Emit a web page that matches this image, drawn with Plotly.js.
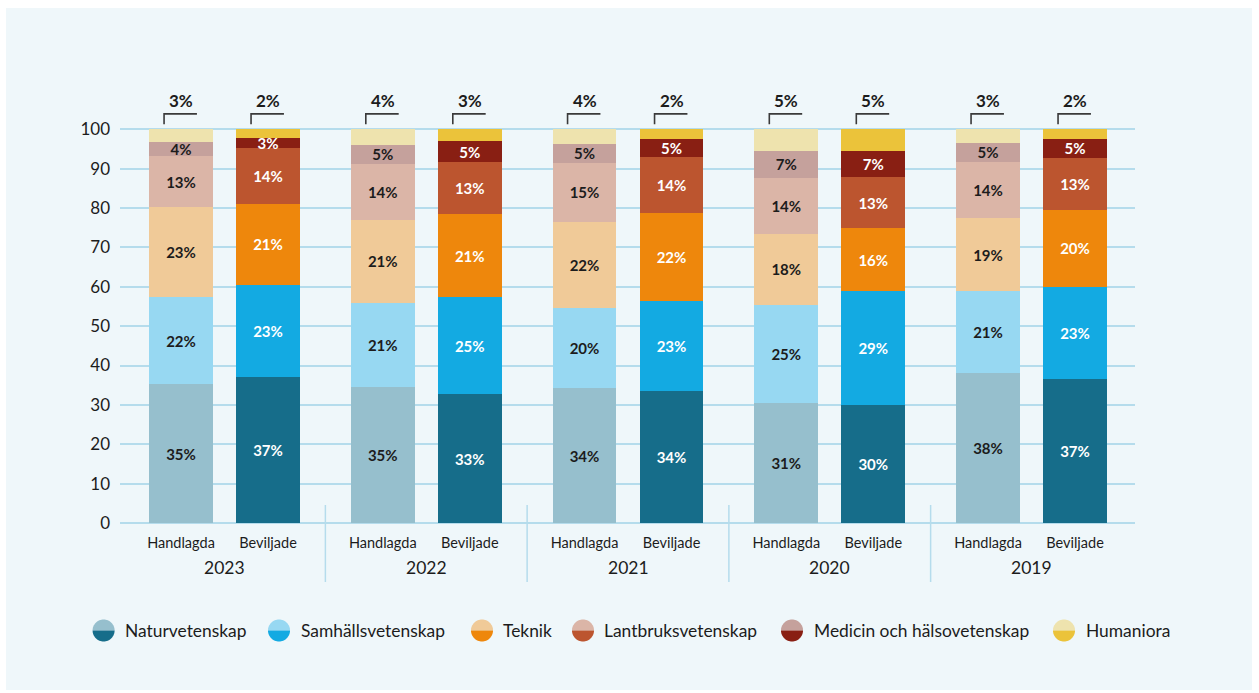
<!DOCTYPE html>
<html>
<head>
<meta charset="utf-8">
<script src="https://cdn.plot.ly/plotly-3.0.1.min.js"></script>
<style>
  html, body { margin: 0; padding: 0; background: #ffffff; }
  #chart { width: 1259px; height: 693px; }
</style>
</head>
<body>
<div id="chart"></div>
<script>
// ---------------- data ----------------
const years = ['2023', '2022', '2021', '2020', '2019'];
const statuses = ['Handlagda', 'Beviljade'];
const categories = ['Naturvetenskap', 'Samhällsvetenskap', 'Teknik', 'Lantbruksvetenskap', 'Medicin och hälsovetenskap', 'Humaniora'];

// order per year: Handlagda, Beviljade
const naturvetenskap    = [35.3, 37.1, 34.6, 32.7, 34.2, 33.6, 30.6, 29.9, 38.0, 36.6];
const samhallsvetenskap = [22.1, 23.4, 21.4, 24.7, 20.4, 22.8, 24.8, 29.0, 20.8, 23.4];
const teknik            = [22.8, 20.6, 21.0, 21.0, 21.9, 22.3, 18.1, 16.0, 18.6, 19.6];
const lantbruk          = [12.9, 14.2, 14.3, 13.2, 15.0, 14.2, 14.0, 12.9, 14.2, 13.2];
const medicin           = [3.6, 2.6, 4.6, 5.4, 4.7, 4.7, 7.1, 6.8, 5.0, 4.8];
const humaniora         = [3.3, 2.1, 4.1, 3.0, 3.8, 2.4, 5.4, 5.4, 3.4, 2.4];

const seriesValues = [naturvetenskap, samhallsvetenskap, teknik, lantbruk, medicin, humaniora];

// ---------------- styles ----------------
const lightColors = ['#96bfcd', '#97d8f2', '#f0ca98', '#dbb5a7', '#c5a19c', '#eee3ae'];
const darkColors  = ['#166d8a', '#13aae2', '#ee870c', '#bc552f', '#891f13', '#ebc33a'];
const FONT = 'Lato, "Open Sans", sans-serif';
const TEXT_DARK = '#1c1c1c';
const GRID = '#b5dcec';

const W_PX = 1259, H_PX = 693;
const M = { l: 120, r: 124, t: 82, b: 170 };
const plotW = W_PX - M.l - M.r;
const plotH = H_PX - M.t - M.b;
const px2paperX = px => (px - M.l) / plotW;
const px2paperY = py => (H_PX - M.b - py) / plotH;

const OFFSET = 0.2156;
const BAR_W = 0.317;

// x positions for each bar: group index +/- offset
const xPos = [];
const isBeviljade = [];
years.forEach((y, g) => {
  statuses.forEach((s, k) => {
    xPos.push(g + (k === 0 ? -OFFSET : OFFSET));
    isBeviljade.push(k === 1);
  });
});

const traces = seriesValues.map((vals, c) => ({
  type: 'bar',
  name: categories[c],
  x: xPos,
  y: vals,
  width: BAR_W,
  marker: { color: isBeviljade.map(b => b ? darkColors[c] : lightColors[c]), line: { width: 0 } },
  text: c === 5 ? vals.map(() => '') : vals.map(v => Math.round(v) + '%'),
  textposition: 'inside',
  insidetextanchor: 'middle',
  constraintext: 'none',
  textangle: 0,
  textfont: { family: FONT, size: 15, weight: 700, color: isBeviljade.map(b => b ? '#ffffff' : TEXT_DARK) },
  hoverinfo: 'skip',
  showlegend: false
}));

const shapes = [];
const annotations = [];

// background panel
shapes.push({
  type: 'rect', xref: 'paper', yref: 'paper', layer: 'below',
  x0: px2paperX(6), x1: px2paperX(1252), y0: px2paperY(690), y1: px2paperY(8),
  fillcolor: '#eff7fa', line: { width: 0 }
});

// Humaniora labels with brackets above each bar
xPos.forEach((x, i) => {
  annotations.push({
    x: x, y: 107.2, xref: 'x', yref: 'y', showarrow: false,
    text: Math.round(humaniora[i]) + '%',
    font: { family: FONT, size: 17, weight: 700, color: TEXT_DARK },
    xanchor: 'center', yanchor: 'middle'
  });
  shapes.push({
    type: 'path', xref: 'x', yref: 'y',
    path: `M ${x - 0.084} 101.3 L ${x - 0.084} 103.9 L ${x + 0.079} 103.9`,
    line: { color: '#3a3a3a', width: 1.6 }
  });
});

// group separators
for (let g = 0; g < years.length - 1; g++) {
  shapes.push({
    type: 'line', xref: 'x', yref: 'paper',
    x0: g + 0.5, x1: g + 0.5, y0: px2paperY(505), y1: px2paperY(582),
    line: { color: GRID, width: 1.5 }
  });
}

// year labels
years.forEach((y, g) => {
  annotations.push({
    x: g, y: px2paperY(567), xref: 'x', yref: 'paper', showarrow: false,
    text: y, font: { family: FONT, size: 17.5, color: TEXT_DARK },
    xanchor: 'center', yanchor: 'middle'
  });
});

// custom legend: half-light / half-dark circles
const legendCircles = [103.6, 279, 482, 583, 792, 1064];
const legendTextX = [123, 299, 501, 602, 812, 1084];
const legendY = 630.5;
const R = 11;
function halfCircle(cx, cy, r, top) {
  const pts = [];
  const N = 32;
  for (let i = 0; i <= N; i++) {
    const t = Math.PI * i / N;
    const px = cx + r * Math.cos(t);
    const py = top ? cy - r * Math.sin(t) : cy + r * Math.sin(t);
    pts.push([px2paperX(px), px2paperY(py)]);
  }
  return 'M ' + pts.map(p => p[0].toFixed(5) + ' ' + p[1].toFixed(5)).join(' L ') + ' Z';
}
categories.forEach((name, c) => {
  shapes.push({ type: 'path', xref: 'paper', yref: 'paper', path: halfCircle(legendCircles[c], legendY, R, true), fillcolor: lightColors[c], line: { width: 0 } });
  shapes.push({ type: 'path', xref: 'paper', yref: 'paper', path: halfCircle(legendCircles[c], legendY, R, false), fillcolor: darkColors[c], line: { width: 0 } });
  annotations.push({
    x: px2paperX(legendTextX[c]), y: px2paperY(legendY), xref: 'paper', yref: 'paper',
    showarrow: false, text: name, xanchor: 'left', yanchor: 'middle',
    font: { family: FONT, size: 17.4, color: TEXT_DARK }
  });
});

const layout = {
  width: W_PX, height: H_PX,
  margin: M,
  paper_bgcolor: '#ffffff',
  plot_bgcolor: 'rgba(0,0,0,0)',
  barmode: 'stack',
  bargap: 0,
  showlegend: false,
  font: { family: FONT, color: TEXT_DARK },
  xaxis: {
    range: [(120 - 224.5) / 201.75, (1135 - 224.5) / 201.75],
    tickmode: 'array',
    tickvals: xPos,
    ticktext: xPos.map((x, i) => statuses[i % 2]),
    tickfont: { family: FONT, size: 14.5, color: TEXT_DARK },
    showgrid: false, zeroline: false, showline: false, ticks: '',
    ticklabelstandoff: 9,
    fixedrange: true
  },
  yaxis: {
    range: [0, 112],
    tickmode: 'array',
    tickvals: [0, 10, 20, 30, 40, 50, 60, 70, 80, 90, 100],
    tickfont: { family: FONT, size: 17, color: TEXT_DARK },
    showgrid: true, gridcolor: GRID, gridwidth: 2,
    zeroline: true, zerolinecolor: GRID, zerolinewidth: 2,
    showline: false, ticks: '',
    ticklabelstandoff: 9,
    fixedrange: true
  },
  shapes: shapes,
  annotations: annotations
};

Plotly.newPlot('chart', traces, layout, { displayModeBar: false, staticPlot: true });
</script>
</body>
</html>
